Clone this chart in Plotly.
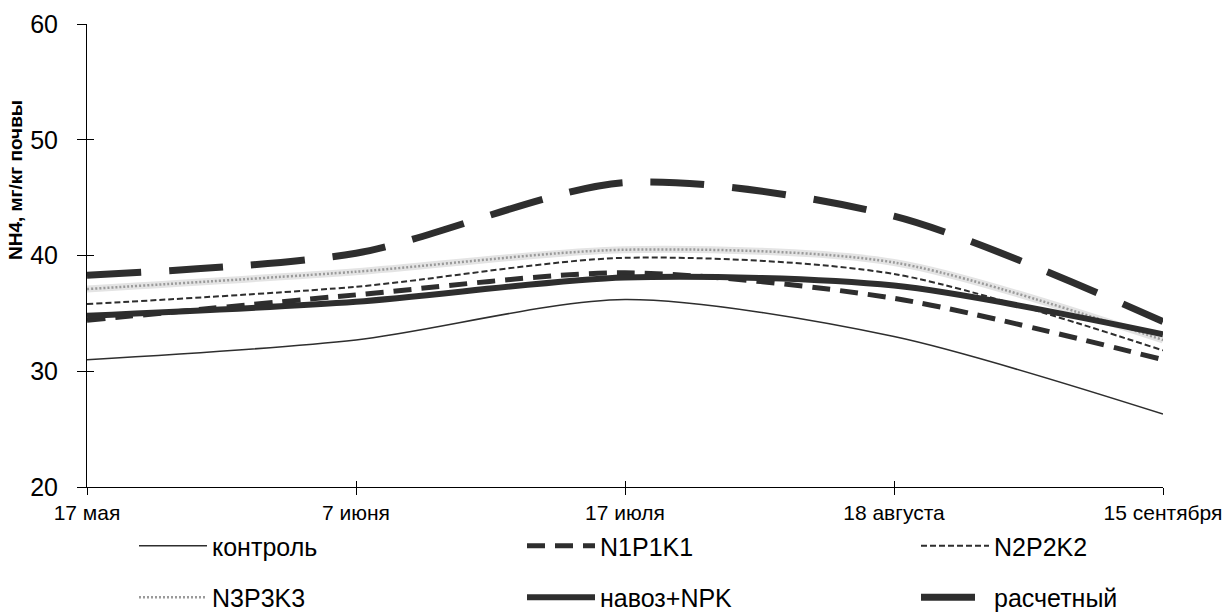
import plotly.graph_objects as go

# Dates of sampling (x categories)
dates = ["17 мая", "7 июня", "17 июля", "18 августа", "15 сентября"]

# NH4 content, mg/kg soil
kontrol = [31.0, 32.7, 36.2, 33.0, 26.3]
n1p1k1 = [34.4, 36.6, 38.5, 36.3, 31.0]
n2p2k2 = [35.8, 37.3, 39.8, 38.4, 31.8]
n3p3k3 = [37.1, 38.6, 40.5, 39.4, 32.7]
navoz_npk = [34.8, 36.0, 38.1, 37.4, 33.2]
raschetny = [38.3, 40.2, 46.3, 43.4, 34.3]

y_ticks = [20, 30, 40, 50, 60]

DARK = "#2e2e2e"
FONT = "Liberation Sans, Arial, sans-serif"

xpos = list(range(len(dates)))

fig = go.Figure()


def add_line(name, values, width, legend, dash="solid", color=DARK, showlegend=True):
    fig.add_trace(go.Scatter(
        x=xpos, y=values, name=name, mode="lines",
        line=dict(color=color, width=width, dash=dash, shape="spline", smoothing=0.8),
        showlegend=showlegend, legend=legend, legendgroup=name, hoverinfo="skip",
    ))


# legend columns: legend (col 1), legend2 (col 2), legend3 (col 3)
add_line("контроль", kontrol, 1.6, "legend")
add_line("N1P1K1", n1p1k1, 5, "legend2", dash="18px,10px")
add_line("N2P2K2", n2p2k2, 2, "legend3", dash="6px,3px")
# textured grey band: light base plus a dotted overlay
add_line("N3P3K3", n3p3k3, 7, "legend", color="#e4e4e4", showlegend=False)
add_line("N3P3K3", n3p3k3, 2.5, "legend", dash="2px,2px", color="#9a9a9a")
add_line("навоз+NPK", navoz_npk, 6, "legend2")
add_line("расчетный", raschetny, 7, "legend3", dash="54px,28px")

axis_common = dict(showgrid=False, zeroline=False, showline=True,
                   linecolor="black", linewidth=1, tickcolor="black", tickwidth=1)


def legend_col(xpix):
    return dict(orientation="v", xref="container", yref="container",
                x=xpix / 1225, y=1 - 523 / 616, xanchor="left", yanchor="top",
                itemwidth=68, tracegroupgap=16, font=dict(size=25, family=FONT),
                bgcolor="rgba(0,0,0,0)")


fig.update_layout(
    width=1225, height=616,
    margin=dict(l=87, r=62, t=24, b=129, autoexpand=False),
    paper_bgcolor="white", plot_bgcolor="white",
    font=dict(family=FONT, color="black"),
    xaxis=dict(range=[0, 4], tickmode="array", tickvals=xpos, ticktext=dates,
               ticks="outside", ticklen=7, tickfont=dict(size=21), **axis_common),
    yaxis=dict(range=[20, 60], tickmode="array", tickvals=y_ticks,
               ticks="outside", ticklen=9, tickfont=dict(size=25),
               ticklabelstandoff=14, **axis_common),
    # companion axes provide the inner half of the crossing tick marks
    xaxis2=dict(range=[0, 4], overlaying="x", tickmode="array", tickvals=xpos,
                ticks="inside", ticklen=6, showticklabels=False, showgrid=False,
                zeroline=False, tickcolor="black", anchor="y"),
    yaxis2=dict(range=[20, 60], overlaying="y", tickmode="array", tickvals=y_ticks,
                ticks="inside", ticklen=7, showticklabels=False, showgrid=False,
                zeroline=False, tickcolor="black", anchor="x"),
    legend=legend_col(134),
    legend2=legend_col(522),
    legend3=legend_col(916),
    annotations=[dict(text="<b>NH4, мг/кг почвы</b>", textangle=-90,
                      xref="paper", yref="paper", x=-72 / 1076, y=(487 - 180) / 463,
                      xanchor="center", yanchor="middle", showarrow=False,
                      font=dict(size=19, family=FONT))],
)

# invisible trace binding the companion axes
fig.add_trace(go.Scatter(x=[0], y=[20], xaxis="x2", yaxis="y2", mode="markers",
                         marker=dict(opacity=0), showlegend=False, hoverinfo="skip"))

fig.write_html("out.html")
